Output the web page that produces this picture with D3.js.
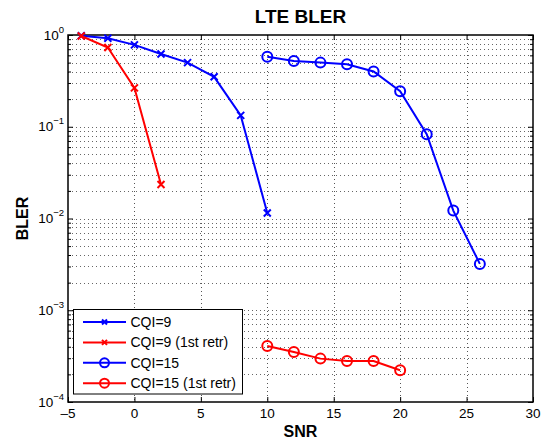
<!DOCTYPE html>
<html><head><meta charset="utf-8">
<script src="https://cdn.jsdelivr.net/npm/d3@7"></script>
<style>body{margin:0;background:#fff}svg{display:block}text{font-family:Arial,"Liberation Sans",Helvetica,sans-serif}</style>
</head><body>
<svg id="c" width="550" height="441"></svg>
<script>
const xTicks = [-5,0,5,10,15,20,25,30];
const yDecades = [-4,-3,-2,-1,0];
const seriesNames = ["CQI=9","CQI=9 (1st retr)","CQI=15","CQI=15 (1st retr)"];
const snrCqi9 = [-4,-2,0,2,4,6,8,10];
const blerCqi9 = [0.98,0.92,0.78,0.62,0.50,0.35,0.133,0.0115];
const snrCqi9r = [-4,-2,0,2];
const blerCqi9r = [0.975,0.73,0.265,0.0235];
const snrCqi15 = [10,12,14,16,18,20,22,24,26];
const blerCqi15 = [0.58,0.52,0.50,0.48,0.40,0.244,0.083,0.0122,0.0032];
const snrCqi15r = [10,12,14,16,18,20];
const blerCqi15r = [4.08e-4,3.51e-4,2.97e-4,2.80e-4,2.80e-4,2.22e-4];

const series = [
  {name:seriesNames[0], x:snrCqi9, y:blerCqi9, color:"#0000ff", marker:"x"},
  {name:seriesNames[1], x:snrCqi9r, y:blerCqi9r, color:"#ff0000", marker:"x"},
  {name:seriesNames[2], x:snrCqi15, y:blerCqi15, color:"#0000ff", marker:"o"},
  {name:seriesNames[3], x:snrCqi15r, y:blerCqi15r, color:"#ff0000", marker:"o"}
];

const L=68, R=533, T=35, B=402;
const svg = d3.select("#c");
const x = d3.scaleLinear().domain([-5,30]).range([L,R]);
const y = d3.scaleLog().domain([1e-4,1]).range([B,T]);

const yMinor = [];
for (let d=-4; d<0; d++) for (let m=2; m<=9; m++) yMinor.push(m*Math.pow(10,d));
const yMajor = yDecades.map(d=>Math.pow(10,d));

const g = svg.append("g");
g.selectAll(".gx").data(xTicks.slice(1,-1)).enter().append("line")
  .attr("x1",d=>Math.round(x(d))+0.5).attr("x2",d=>Math.round(x(d))+0.5).attr("y1",T).attr("y2",B)
  .attr("stroke","#555").attr("stroke-width",1).attr("stroke-dasharray","1,3");
g.selectAll(".gy").data(yMinor.concat(yMajor.slice(1,-1))).enter().append("line")
  .attr("x1",L).attr("x2",R).attr("y1",d=>Math.round(y(d))+0.5).attr("y2",d=>Math.round(y(d))+0.5)
  .attr("stroke","#666").attr("stroke-width",1).attr("stroke-dasharray","1,3");

const fmt = ()=>"";
svg.append("g").attr("transform",`translate(0,${B})`).call(d3.axisBottom(x).tickValues(xTicks).tickSize(-5).tickFormat(fmt)).call(a=>a.select(".domain").remove());
svg.append("g").attr("transform",`translate(0,${T})`).call(d3.axisTop(x).tickValues(xTicks).tickSize(-5).tickFormat(fmt)).call(a=>a.select(".domain").remove());
svg.append("g").attr("transform",`translate(${L},0)`).call(d3.axisLeft(y).tickValues(yMajor).tickSize(-5).tickFormat(fmt)).call(a=>a.select(".domain").remove());
svg.append("g").attr("transform",`translate(${L},0)`).call(d3.axisLeft(y).tickValues(yMinor).tickSize(-3).tickFormat(fmt)).call(a=>a.select(".domain").remove());
svg.append("g").attr("transform",`translate(${R},0)`).call(d3.axisRight(y).tickValues(yMajor).tickSize(-5).tickFormat(fmt)).call(a=>a.select(".domain").remove());
svg.append("g").attr("transform",`translate(${R},0)`).call(d3.axisRight(y).tickValues(yMinor).tickSize(-3).tickFormat(fmt)).call(a=>a.select(".domain").remove());
svg.selectAll(".tick line").attr("stroke","#000");

svg.append("rect").attr("x",L).attr("y",T).attr("width",R-L).attr("height",B-T)
  .attr("fill","none").attr("stroke","#000").attr("stroke-width",1.5);

svg.append("g").selectAll("text").data(xTicks).enter().append("text")
  .attr("x",d=>x(d)).attr("y",418).attr("text-anchor","middle").attr("font-size",13.5)
  .text(d=>d<0?"\u2013"+Math.abs(d):d);
const yl = svg.append("g").selectAll("text").data(yDecades).enter().append("text")
  .attr("x",L-4).attr("y",d=>y(Math.pow(10,d))+4.5).attr("text-anchor","end").attr("font-size",13.5);
yl.append("tspan").text("10");
yl.append("tspan").attr("dy",-7).attr("font-size",9.5).text(d=>d===0?"0":"\u2212"+Math.abs(d));

const line = d3.line().x(d=>x(d[0])).y(d=>y(d[1]));
function drawMarker(sel, type, color){
  if(type==="x"){
    sel.append("path").attr("d","M-3.5,-3.5L3.5,3.5M-3.5,3.5L3.5,-3.5").attr("stroke",color).attr("stroke-width",2).attr("fill","none");
  } else {
    sel.append("circle").attr("r",5).attr("stroke",color).attr("stroke-width",2).attr("fill","none");
  }
}
series.forEach(s=>{
  const pts = s.x.map((v,i)=>[v,s.y[i]]);
  svg.append("path").datum(pts).attr("d",line).attr("fill","none").attr("stroke",s.color).attr("stroke-width",2);
  pts.forEach(p=>{
    const m = svg.append("g").attr("transform",`translate(${x(p[0])},${y(p[1])})`);
    drawMarker(m, s.marker, s.color);
  });
});

const lg = svg.append("g");
lg.append("rect").attr("x",73.5).attr("y",309.5).attr("width",169).attr("height",84.5)
  .attr("fill","#fff").attr("stroke","#000").attr("stroke-width",1);
series.forEach((s,i)=>{
  const yy = 322 + i*20.4;
  lg.append("line").attr("x1",83).attr("x2",126).attr("y1",yy).attr("y2",yy).attr("stroke",s.color).attr("stroke-width",2);
  const m = lg.append("g").attr("transform",`translate(104.5,${yy})`);
  if(s.marker==="x"){
    m.append("path").attr("d","M-2.5,-2.5L2.5,2.5M-2.5,2.5L2.5,-2.5").attr("stroke",s.color).attr("stroke-width",2);
  } else {
    m.append("circle").attr("r",4.5).attr("stroke",s.color).attr("stroke-width",2).attr("fill","none");
  }
  lg.append("text").attr("x",130.5).attr("y",yy+5).attr("font-size",14).text(s.name);
});

svg.append("text").attr("x",(L+R)/2).attr("y",23).attr("text-anchor","middle").attr("font-size",19).attr("font-weight","bold").text("LTE BLER");
svg.append("text").attr("x",(L+R)/2).attr("y",437).attr("text-anchor","middle").attr("font-size",16).attr("font-weight","bold").text("SNR");
svg.append("text").attr("transform",`translate(28,${(T+B)/2}) rotate(-90)`).attr("text-anchor","middle").attr("font-size",16).attr("font-weight","bold").text("BLER");
</script>
</body></html>
